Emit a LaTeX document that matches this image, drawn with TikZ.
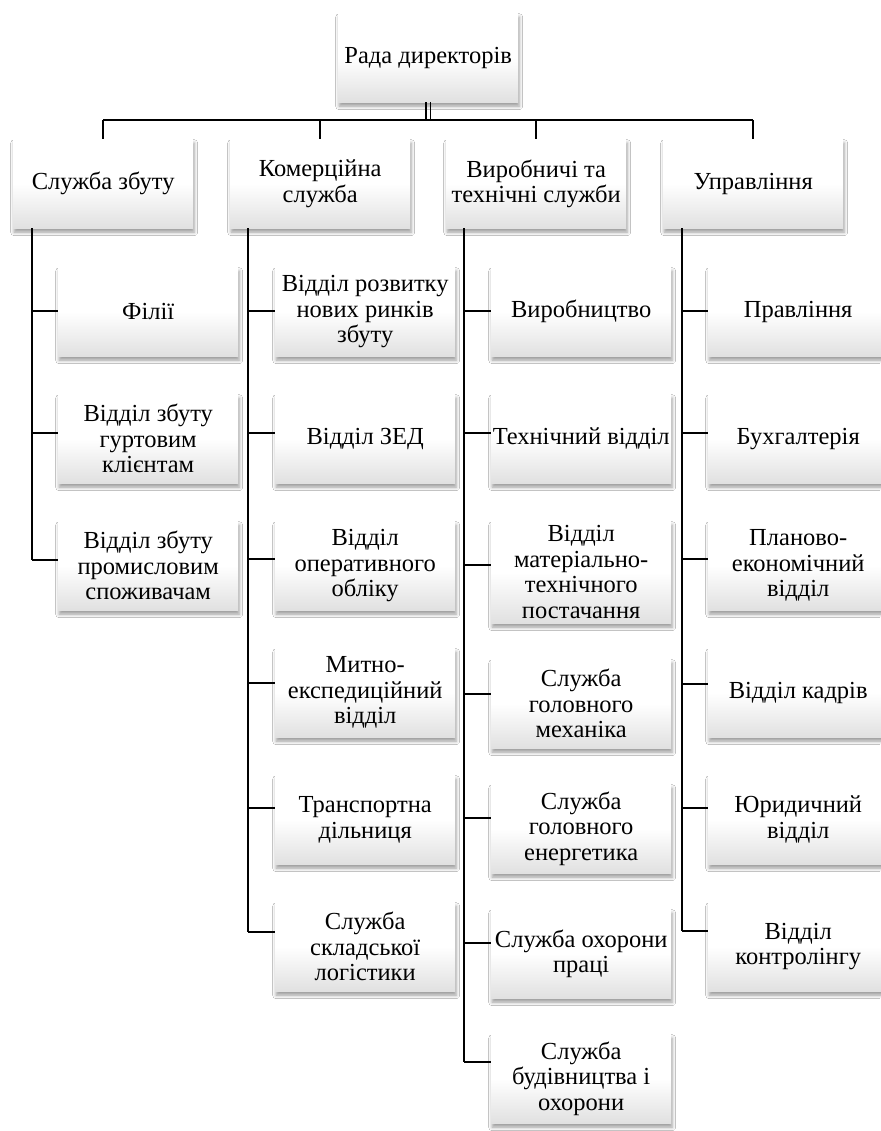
\documentclass[tikz,border=0pt]{standalone}
\usepackage{fontspec}
\setmainfont{Liberation Serif}
\newfontfamily\tnr{Liberation Serif}
\usetikzlibrary{shadows.blur}
\begin{document}
\begin{tikzpicture}[x=1pt,y=-1pt,
  box/.style={anchor=north west, minimum width=180pt, minimum height=89pt,
    inner sep=0pt, align=center, draw=none,
    top color=white, bottom color=black!12, middle color=white,
    font=\tnr\fontsize{24.5}{25.5}\selectfont,
    blur shadow={shadow xshift=1pt, shadow yshift=-4pt, shadow blur radius=3.5pt, shadow opacity=40}},
  tall/.style={minimum height=102pt},
  conn/.style={line width=2.5pt, black},
  dbl/.style={line width=1.9pt, black}]
\useasboundingbox (0,0) rectangle (880,1131);
\fill[white] (0,0) rectangle (880,1131);

% root and level 1
\node[box] (R) at (338,13) {Рада директорів};
\node[box] (S1) at (13,139) {Служба збуту};
\node[box] (S2) at (230,139) {Комерційна\\служба};
\node[box] (S3) at (446,139) {Виробничі та\\технічні служби};
\node[box] (S4) at (663,139) {Управління};

% column 1
\node[box] (F1) at (58,267) {Філії};
\node[box] (F2) at (58,394) {Відділ збуту\\гуртовим\\клієнтам};
\node[box] (F3) at (58,521) {Відділ збуту\\промисловим\\споживачам};

% column 2
\node[box] (K1) at (275,267) {Відділ розвитку\\нових ринків\\збуту};
\node[box] (K2) at (275,394) {Відділ ЗЕД};
\node[box] (K3) at (275,521) {Відділ\\оперативного\\обліку};
\node[box] (K4) at (275,648) {Митно-\\експедиційний\\відділ};
\node[box] (K5) at (275,775) {Транспортна\\дільниця};
\node[box] (K6) at (275,902) {Служба\\складської\\логістики};

% column 3
\node[box] (V1) at (491,267) {Виробництво};
\node[box] (V2) at (491,394) {Технічний відділ};
\node[box,tall] (V3) at (491,521) {Відділ\\матеріально-\\технічного\\постачання};
\node[box] (V4) at (491,659) {Служба\\головного\\механіка};
\node[box] (V5) at (491,784) {Служба\\головного\\енергетика};
\node[box] (V6) at (491,909) {Служба охорони\\праці};
\node[box] (V7) at (491,1034) {Служба\\будівництва і\\охорони};

% column 4
\node[box] (U1) at (708,267) {Правління};
\node[box] (U2) at (708,394) {Бухгалтерія};
\node[box] (U3) at (708,521) {Планово-\\економічний\\відділ};
\node[box] (U4) at (708,648) {Відділ кадрів};
\node[box] (U5) at (708,775) {Юридичний\\відділ};
\node[box] (U6) at (708,902) {Відділ\\контролінгу};

% top bus
\coordinate (bus) at (0,120);
\draw[dbl] ([xshift=-2.3pt]R.south) -- ([xshift=-2.3pt]R.south |- bus);
\draw[dbl] ([xshift=2.3pt]R.south) -- ([xshift=2.3pt]R.south |- bus);
\draw[conn] (S1.north |- bus) -- (S4.north |- bus);
\foreach \s in {S1,S2,S3,S4} \draw[conn] (\s.north |- bus) -- (\s.north);

% column connectors
\foreach \p/\vx/\list in {
  S1/32/{F1/311,F2/433,F3/560},
  S2/248/{K1/311,K2/433,K3/559,K4/683,K5/808,K6/932},
  S3/464/{V1/311,V2/433,V3/565,V4/694,V5/818,V6/943,V7/1062},
  S4/682/{U1/311,U2/433,U3/559,U4/684,U5/808,U6/931}} {
  \foreach \c/\cy in \list {
    \coordinate (c\c) at (\vx,\cy);
    \draw[conn] (c\c) -- (c\c -| \c.west);
    \xdef\lastc{\c}
  }
  \draw[conn] (\p.south -| c\lastc) -- (c\lastc);
}
\end{tikzpicture}
\end{document}
